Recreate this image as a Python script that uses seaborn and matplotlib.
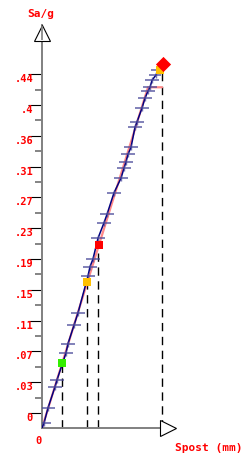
import numpy as np
import pandas as pd
import matplotlib
matplotlib.use("Agg")
import matplotlib.pyplot as plt
import seaborn as sns

# spectral displacement (mm) vs Sa/g
x_curve = [0.0, 0.2, 0.6, 1.3, 1.5, 2.4, 2.6, 3.2, 3.6, 4.6, 4.8, 5.1, 5.6, 6.2, 6.5,
           7.2, 7.9, 8.2, 8.4, 8.6, 8.9, 9.3, 9.5, 10.0, 10.3, 10.6, 10.8, 11.0, 11.4, 11.6]
y_curve = [-0.0195, -0.013, 0.0065, 0.034, 0.043, 0.078, 0.090, 0.114, 0.130, 0.178, 0.190,
           0.200, 0.227, 0.247, 0.258, 0.286, 0.305, 0.318, 0.326, 0.336, 0.345, 0.371,
           0.378, 0.396, 0.409, 0.418, 0.423, 0.432, 0.439, 0.445]

# bilinear fit
x_fit = [0.0, 10.6, 12.0]
y_fit = [-0.0195, 0.423, 0.423]

# performance points
x_pts = [2.0, 4.5, 5.7, 11.75, 12.1]
y_pts = [0.065, 0.170, 0.218, 0.446, 0.453]
pt_colors = ["#33ee00", "#ffc000", "#ff0000", "#ffc000", "#ff0000"]
pt_markers = ["s", "s", "s", "s", "D"]
pt_sizes = [40, 40, 40, 40, 60]

# dashed drop lines
x_drop = [2.0, 4.5, 5.6, 12.0]
y_drop = [0.065, 0.170, 0.218, 0.447]

ytick_vals = [0, 0.04, 0.08, 0.12, 0.16, 0.20, 0.24, 0.28, 0.32, 0.36, 0.40, 0.44]
ytick_labels = ["0", ".03", ".07", ".11", ".15", ".19", ".23", ".27", ".31", ".36", ".4", ".44"]
yminor_vals = [0.02, 0.06, 0.10, 0.14, 0.18, 0.22, 0.26, 0.30, 0.34, 0.38, 0.42]

sns.set_style("white")
plt.rcParams["font.family"] = ["DejaVu Sans Mono"]
plt.rcParams["font.weight"] = "bold"

y0 = -0.0195
fig = plt.figure(figsize=(2.46, 4.59), dpi=100)
ax = fig.add_axes([42/246, 31/459, 118/246, 403/459])
ax.set_xlim(0, 11.8)
ax.set_ylim(y0, (413 - 25) / 770)

curve = pd.DataFrame({"x": x_curve, "y": y_curve})
fit = pd.DataFrame({"x": x_fit, "y": y_fit})

ax.vlines(x_drop, y0, y_drop, colors="black", linewidth=1, linestyles=(0, (6, 4)),
          clip_on=False, zorder=1)
sns.lineplot(data=fit, x="x", y="y", sort=False, color="#ff8888", linewidth=1.6,
             ax=ax, clip_on=False, zorder=2)
sns.lineplot(data=curve, x="x", y="y", sort=False, color="#000080", linewidth=1.1,
             ax=ax, zorder=3)
ax.plot(x_curve[1:], y_curve[1:], linestyle="none", marker="_", markersize=10,
        markeredgewidth=1.3, color="#4a4a9a", alpha=0.75, zorder=4)
ax.plot(x_curve[1:], y_curve[1:], linestyle="none", marker="|", markersize=5,
        markeredgewidth=1.0, color="#4a4a9a", alpha=0.75, zorder=4)
for xp, yp, c, m, s in zip(x_pts, y_pts, pt_colors, pt_markers, pt_sizes):
    ax.scatter([xp], [yp], color=c, marker=m, s=s, linewidths=0, zorder=6, clip_on=False)

# axes arrows
ax.plot([0], [(413 - 33.5) / 770], marker="^", markersize=11.5, markerfacecolor="white",
        markeredgecolor="black", markeredgewidth=0.8, clip_on=False, zorder=7)
ax.plot([0], [(413 - 33.5) / 770], marker="|", markersize=10, color="#808080",
        markeredgewidth=1.2, clip_on=False, zorder=8)
ax.plot([12.55], [y0], marker=">", markersize=11.5, markerfacecolor="white",
        markeredgecolor="black", markeredgewidth=0.8, clip_on=False, zorder=7)

for side in ["top", "right"]:
    ax.spines[side].set_visible(False)
for side in ["left", "bottom"]:
    ax.spines[side].set_color("#808080")
    ax.spines[side].set_linewidth(1.4)

ax.set_yticks(ytick_vals)
ax.set_yticklabels(ytick_labels, va="top")
ax.set_yticks(yminor_vals, minor=True)
ax.tick_params(axis="y", which="major", length=10, width=0.8, color="black",
               pad=-3.6, labelcolor="red", labelsize=7.5, left=True)
ax.tick_params(axis="y", which="minor", length=5, width=1.2, color="#707070", left=True)
ax.set_xticks([0])
ax.set_xticklabels(["0"], ha="right")
ax.tick_params(axis="x", length=0, pad=6, labelcolor="red", labelsize=7.5)
ax.set_xlabel("")
ax.set_ylabel("")

fig.text(41/246, 1 - 14/459, "Sa/g", ha="center", va="center", color="red",
         fontsize=8, fontweight="bold")
fig.text(175/246, 1 - 448/459, "Spost (mm)", ha="left", va="center", color="red",
         fontsize=8, fontweight="bold")

fig.savefig("out.png", dpi=100)
